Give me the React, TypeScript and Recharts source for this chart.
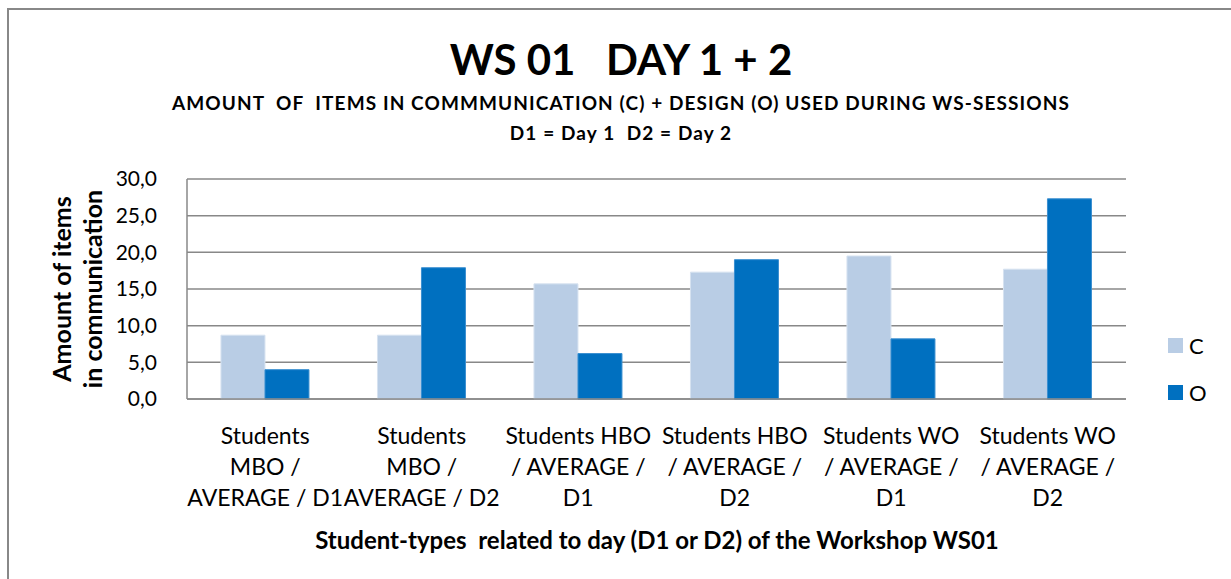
// WS01 workshop chart: items in communication (C) and design (O) per student type and day
import React from "react";
import { BarChart, Bar, XAxis, YAxis, CartesianGrid, Legend } from "recharts";

const categories = [
  "Students MBO / AVERAGE / D1",
  "Students MBO / AVERAGE / D2",
  "Students HBO / AVERAGE / D1",
  "Students HBO / AVERAGE / D2",
  "Students WO / AVERAGE / D1",
  "Students WO / AVERAGE / D2",
];

// how each category label wraps under the axis
const tickLines = [
  ["Students", "MBO /", "AVERAGE / D1"],
  ["Students", "MBO /", "AVERAGE / D2"],
  ["Students HBO", "/ AVERAGE /", "D1"],
  ["Students HBO", "/ AVERAGE /", "D2"],
  ["Students WO", "/ AVERAGE /", "D1"],
  ["Students WO", "/ AVERAGE /", "D2"],
];

const seriesC = [8.7, 8.7, 15.7, 17.3, 19.5, 17.7];
const seriesO = [4.0, 17.9, 6.2, 19.0, 8.2, 27.3];

const yTicks = [0, 5, 10, 15, 20, 25, 30];

const data = categories.map((name, i) => ({
  name,
  C: seriesC[i],
  O: seriesO[i],
}));

const FONT = "Lato, 'Open Sans', sans-serif";
const LIGHT = "#B9CDE5";
const DARK = "#0070C0";

function CategoryTick(props: any) {
  const { x, y, payload, index } = props;
  const lines = tickLines[index] ?? [payload.value];
  return (
    <text x={x} y={y} textAnchor="middle" fill="#000" fontSize={23} fontFamily={FONT}>
      {lines.map((l: string, i: number) => (
        <tspan key={i} x={x} dy={i === 0 ? 37 : 31}>
          {l}
        </tspan>
      ))}
    </text>
  );
}

function LegendBox() {
  const items = [
    { label: "C", color: LIGHT },
    { label: "O", color: DARK },
  ];
  return (
    <div style={{ fontFamily: FONT, fontSize: 22 }}>
      {items.map((it) => (
        <div key={it.label} style={{ display: "flex", alignItems: "center", height: 47 }}>
          <span style={{ width: 15, height: 15, background: it.color, display: "inline-block", marginRight: 6 }} />
          <span>{it.label}</span>
        </div>
      ))}
    </div>
  );
}

export default function App() {
  return (
    <div style={{ position: "absolute", left: 0, top: 0, width: 1231, height: 579, background: "#fff", overflow: "hidden" }}>
      <style>{"body{margin:0}"}</style>
      {/* frame */}
      <div
        style={{
          position: "absolute",
          left: 7,
          top: 8,
          width: 1300,
          height: 700,
          borderLeft: "2px solid #888",
          borderTop: "2px solid #888",
        }}
      />
      <div style={{ position: "absolute", left: 0, width: 1242, top: 34, textAlign: "center", fontFamily: FONT, fontWeight: 700, fontSize: 42, whiteSpace: "pre", color: "#000" }}>
        {"WS 01   DAY 1 + 2"}
      </div>
      <div style={{ position: "absolute", left: 0, width: 1242, top: 88, textAlign: "center", fontFamily: FONT, fontWeight: 700, fontSize: 19, letterSpacing: 1.1, whiteSpace: "pre", color: "#000", lineHeight: "30px" }}>
        {"AMOUNT  OF  ITEMS IN COMMMUNICATION (C) + DESIGN (O) USED DURING WS-SESSIONS\nD1 = Day 1  D2 = Day 2"}
      </div>
      <div
        style={{
          position: "absolute",
          left: 77,
          top: 289,
          transform: "translate(-50%, -50%) rotate(-90deg)",
          textAlign: "center",
          fontFamily: FONT,
          fontWeight: 700,
          fontSize: 25,
          lineHeight: "31px",
          whiteSpace: "pre",
          color: "#000",
        }}
      >
        {"Amount of items\nin communication"}
      </div>
      <div style={{ position: "absolute", left: 0, width: 1314, top: 525, textAlign: "center", fontFamily: FONT, fontWeight: 700, fontSize: 24, whiteSpace: "pre", color: "#000" }}>
        {"Student-types  related to day (D1 or D2) of the Workshop WS01"}
      </div>
      <div style={{ position: "absolute", left: 0, top: 0 }}>
        <BarChart
          width={1231}
          height={579}
          data={data}
          margin={{ top: 179, right: 105, left: 0, bottom: 0 }}
          barCategoryGap="21.7%"
          barGap={0}
        >
          <CartesianGrid vertical={false} stroke="#888" strokeWidth={1.5} />
          <XAxis
            dataKey="name"
            height={180}
            interval={0}
            tickLine={false}
            axisLine={{ stroke: "#888", strokeWidth: 1.5 }}
            tick={<CategoryTick />}
          />
          <YAxis
            width={187}
            domain={[0, 30]}
            ticks={yTicks}
            tickLine={false}
            tickMargin={24}
            axisLine={{ stroke: "#888", strokeWidth: 1.5 }}
            tick={{ fill: "#000", fontSize: 21, fontFamily: FONT }}
            tickFormatter={(v: number) => v.toFixed(1).replace(".", ",")}
          />
          <Legend
            layout="vertical"
            verticalAlign="middle"
            align="center"
            content={<LegendBox />}
            wrapperStyle={{ position: "absolute", left: 1168, top: 322, width: 60 }}
          />
          <Bar dataKey="C" fill={LIGHT} stroke="#d6e2f0" strokeWidth={1} isAnimationActive={false} />
          <Bar dataKey="O" fill={DARK} stroke="#3a8fd0" strokeWidth={1} isAnimationActive={false} />
        </BarChart>
      </div>
    </div>
  );
}
